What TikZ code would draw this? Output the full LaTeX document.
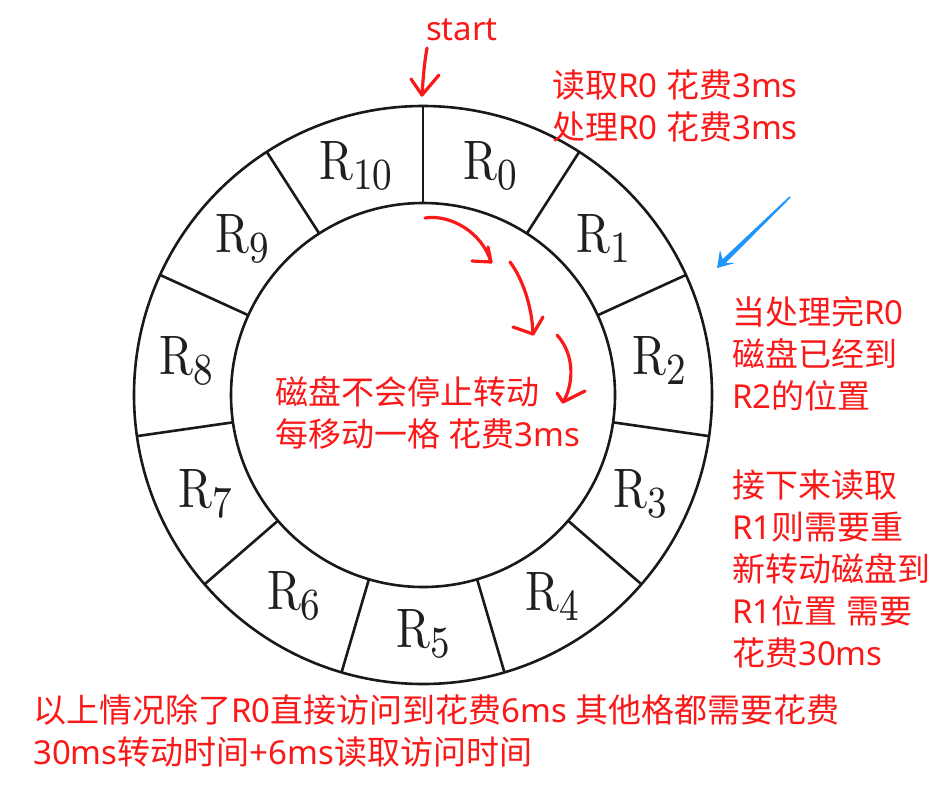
\documentclass[tikz,border=0pt]{standalone}
\usepackage{fontspec}
\usepackage{graphicx}
\newfontfamily\lat{Noto Sans}
\newfontfamily\cjk{Noto Sans CJK SC}
\definecolor{annot}{RGB}{250,25,25}
\definecolor{hint}{RGB}{30,150,250}
\usetikzlibrary{arrows.meta}
\newcommand{\rlab}[1]{\scalebox{4.6}[5.56]{\fontsize{10}{10}\selectfont R\raisebox{-1.8pt}{\fontsize{8}{8}\selectfont #1}}}
\newcommand{\zh}[1]{{\cjk #1}}
\begin{document}
\begin{tikzpicture}[x=1pt,y=-1pt,
  note/.style={text=annot, font=\lat\fontsize{33}{42}\selectfont, inner sep=0pt, align=left},
  ring/.style={line width=2.6pt, draw=black!90},
  hand/.style={draw=annot, line width=3.2pt, line cap=round, line join=round},
  slot/.style={inner sep=0pt, text=black!88}]
\useasboundingbox (0,0) rectangle (941,793);
\fill[white] (0,0) rectangle (941,793);
\begin{scope}[shift={(423,395)}]
  \draw[ring] (0,0) circle[radius=289pt];
  \draw[ring] (0,0) circle[radius=192pt];
  \foreach \k in {0,...,10} {
    \draw[ring] (\k*32.7273-90:192) -- (\k*32.7273-90:289);
    \node[slot] (r\k) at (\k*32.7273+16.3636-90:239) {\rlab{\k}};
  }
\end{scope}
% start
\node[note, anchor=center] (start) at (462,30) {start};
\coordinate (s0) at (427,48);
\coordinate (s1) at (422,95);
\draw[hand] (s0) .. controls (424,65) and (423,80) .. (s1);
\draw[hand] (411,79) -- (s1) -- (439,75);
% notes
\node[note, anchor=west] (readnote) at (552,106) {\zh{读取}R0 \zh{花费}3ms\\\zh{处理}R0 \zh{花费}3ms};
\node[note, anchor=west] (posnote) at (732,353.5) {\zh{当处理完}R0\\\zh{磁盘已经到}\\R2\zh{的位置}};
\node[note, anchor=west] (nextnote) at (732,569) {\zh{接下来读取}\\R1\zh{则需要重}\\\zh{新转动磁盘到}\\R1\zh{位置} \zh{需要}\\\zh{花费}30ms};
\node[note, anchor=west] (spinnote) at (275,412.5) {\zh{磁盘不会停止转动}\\\zh{每移动一格} \zh{花费}3ms};
\node[note, anchor=west] (sumnote) at (33,731) {\zh{以上情况除了}R0\zh{直接访问到花费}6ms \zh{其他格都需要花费}\\30ms\zh{转动时间}+6ms\zh{读取访问时间}};
% hand drawn rotation arrows
\coordinate (a1) at (491,262);
\draw[hand] (425,218) .. controls (450,214) and (482,232) .. (a1);
\draw[hand] (472,261) -- (a1) -- (488,247);
\coordinate (a2) at (533,334);
\draw[hand] (510,262) .. controls (522,278) and (532,305) .. (a2);
\draw[hand] (513,327) -- (a2) -- (543,317);
\coordinate (a3) at (563,402);
\draw[hand] (557,335) .. controls (576,356) and (573,386) .. (a3);
\draw[hand] (557,393) -- (a3) -- (585,391);
% blue pointer
\fill[hint] (717,268) -- (720,250) -- (722.5,259.2) -- (789.4,196.4) -- (790.6,197.6) -- (725.9,262.8) -- (735,263) -- cycle;
\end{tikzpicture}
\end{document}
